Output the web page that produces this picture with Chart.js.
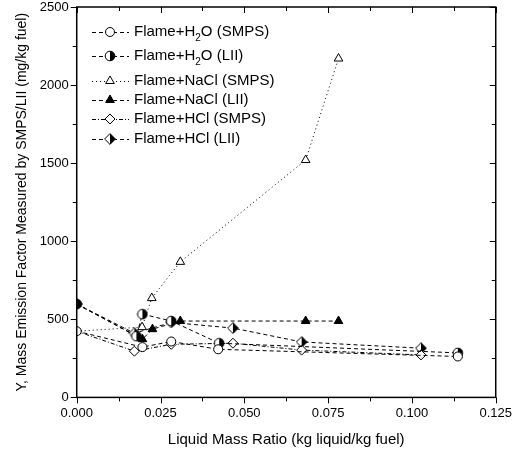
<!DOCTYPE html>
<html>
<head>
<meta charset="utf-8">
<script src="https://cdn.jsdelivr.net/npm/chart.js@4"></script>
<style>
  html, body { margin: 0; padding: 0; background: #fff; }
  #wrap { width: 520px; height: 450px; }
</style>
</head>
<body>
<div id="wrap"><canvas id="chart" width="520" height="450"></canvas></div>
<script>
// data
const h2oSmpsX = [0, 0.0196, 0.0282, 0.0422, 0.1137];
const h2oSmpsY = [424, 322, 358, 308, 262];
const h2oLiiX = [0, 0.0178, 0.0196, 0.0282, 0.0425, 0.1137];
const h2oLiiY = [598, 392, 533, 489, 347, 285];
const naclSmpsX = [0, 0.0195, 0.0224, 0.0309, 0.0683, 0.0781];
const naclSmpsY = [424, 450, 636, 868, 1520, 2170];
const naclLiiX = [0, 0.0196, 0.0226, 0.0309, 0.0683, 0.0781];
const naclLiiY = [598, 373, 437, 489, 489, 489];
const hclSmpsX = [0, 0.0172, 0.0282, 0.0466, 0.0671, 0.1027];
const hclSmpsY = [424, 296, 340, 347, 303, 272];
const hclLiiX = [0, 0.0172, 0.0282, 0.0466, 0.0671, 0.1027];
const hclLiiY = [598, 411, 480, 444, 355, 315];

const xTicks = [0, 0.025, 0.05, 0.075, 0.1, 0.125];
const yTicks = [0, 500, 1000, 1500, 2000, 2500];

const FONT = '"Liberation Sans", Arial, sans-serif';

function pts(xs, ys) {
    return xs.map((x, i) => ({x: x, y: ys[i]}));
}

// half filled markers (right half black)
function halfMarker(shape) {
    const c = document.createElement('canvas');
    c.width = 12; c.height = 12;
    const g = c.getContext('2d');
    const path = () => {
        g.beginPath();
        if (shape === 'circle') {
            g.arc(6, 6, 4.8, 0, Math.PI * 2);
        } else {
            g.moveTo(6, 0.6); g.lineTo(11.4, 6); g.lineTo(6, 11.4); g.lineTo(0.6, 6); g.closePath();
        }
    };
    path();
    g.fillStyle = '#fff'; g.fill();
    g.save();
    path(); g.clip();
    g.fillStyle = '#000';
    g.fillRect(6, 0, 6, 12);
    g.restore();
    path();
    g.lineWidth = 1; g.strokeStyle = '#000'; g.stroke();
    return c;
}
const halfCircle = halfMarker('circle');
const halfDiamond = halfMarker('diamond');

function series(label, xs, ys, style, fill, dash, radius) {
    return {
        label: label,
        data: pts(xs, ys),
        showLine: true,
        borderColor: '#000',
        borderWidth: 1,
        borderDash: dash,
        pointStyle: style,
        pointRadius: radius || 4.5,
        pointBackgroundColor: fill,
        pointBorderColor: '#000',
        pointBorderWidth: 1,
        tension: 0
    };
}

const datasets = [
    series('Flame+H₂O (SMPS)', h2oSmpsX, h2oSmpsY, 'circle', '#fff', [4, 3]),
    series('Flame+H₂O (LII)', h2oLiiX, h2oLiiY, halfCircle, '#000', [4, 3]),
    series('Flame+NaCl (SMPS)', naclSmpsX, naclSmpsY, 'triangle', '#fff', [1, 3], 5),
    series('Flame+NaCl (LII)', naclLiiX, naclLiiY, 'triangle', '#000', [4, 3], 5),
    series('Flame+HCl (SMPS)', hclSmpsX, hclSmpsY, 'rectRot', '#fff', [4, 2, 1, 2], 5),
    series('Flame+HCl (LII)', hclLiiX, hclLiiY, halfDiamond, '#000', [4, 3])
];

// box frame, ticks and legend
const framePlugin = {
    id: 'frame',
    afterDraw(chart) {
        const {ctx, chartArea: a, scales} = chart;
        const xs = scales.x, ys = scales.y;
        ctx.save();
        ctx.strokeStyle = '#000';
        ctx.lineWidth = 1.5;
        ctx.setLineDash([]);
        ctx.strokeRect(a.left, a.top, a.right - a.left, a.bottom - a.top);
        ctx.lineWidth = 1;
        for (let v = 0; v <= 0.1251; v += 0.0125) {
            const px = Math.round(xs.getPixelForValue(v)) + 0.5;
            const major = Math.abs(v / 0.025 - Math.round(v / 0.025)) < 1e-6;
            const len = major ? 6 : 4;
            ctx.beginPath();
            ctx.moveTo(px, a.bottom); ctx.lineTo(px, a.bottom + len);
            ctx.moveTo(px, a.top); ctx.lineTo(px, a.top + len);
            ctx.stroke();
        }
        for (let v = 0; v <= 2500; v += 250) {
            const py = Math.round(ys.getPixelForValue(v)) + 0.5;
            const len = v % 500 === 0 ? 6 : 4;
            ctx.beginPath();
            ctx.moveTo(a.left, py); ctx.lineTo(a.left - len, py);
            ctx.moveTo(a.right, py); ctx.lineTo(a.right - len, py);
            ctx.stroke();
        }

        // legend
        const rows = [32, 56, 81, 100, 119, 139];
        ctx.textBaseline = 'middle';
        chart.data.datasets.forEach((ds, i) => {
            const y = rows[i];
            ctx.strokeStyle = '#000';
            ctx.lineWidth = 1;
            ctx.setLineDash(ds.borderDash);
            ctx.beginPath();
            ctx.moveTo(92, y + 0.5); ctx.lineTo(129, y + 0.5);
            ctx.stroke();
            ctx.setLineDash([]);
            ctx.fillStyle = ds.pointBackgroundColor;
            Chart.helpers.drawPoint(ctx, {
                pointStyle: ds.pointStyle,
                radius: ds.pointRadius,
                borderWidth: 1
            }, 110, y);
            ctx.fillStyle = '#000';
            ctx.font = '15px ' + FONT;
            const lab = ds.label;
            if (lab.indexOf('₂') >= 0) {
                const parts = lab.split('₂');
                ctx.fillText(parts[0], 134, y);
                const w = ctx.measureText(parts[0]).width;
                ctx.font = '10px ' + FONT;
                ctx.fillText('2', 134 + w, y + 6);
                const w2 = ctx.measureText('2').width;
                ctx.font = '15px ' + FONT;
                ctx.fillText(parts[1], 134 + w + w2, y);
            } else {
                ctx.fillText(lab, 134, y);
            }
        });
        ctx.restore();
    }
};

new Chart(document.getElementById('chart'), {
    type: 'scatter',
    data: { datasets: datasets },
    options: {
        responsive: false,
        animation: false,
        layout: { padding: { top: 7, right: 12, left: 14, bottom: 1 } },
        plugins: {
            legend: { display: false },
            tooltip: { enabled: false }
        },
        scales: {
            x: {
                type: 'linear',
                min: 0,
                max: 0.125,
                afterBuildTicks: s => { s.ticks = xTicks.map(v => ({value: v})); },
                grid: { display: false, drawTicks: false },
                border: { display: false },
                ticks: {
                    color: '#000',
                    font: { family: FONT, size: 13 },
                    padding: 8,
                    maxRotation: 0,
                    callback: v => v.toFixed(3)
                },
                title: {
                    display: true,
                    text: 'Liquid Mass Ratio (kg liquid/kg fuel)',
                    color: '#000',
                    font: { family: FONT, size: 15 },
                    padding: { top: 2, bottom: 0 }
                }
            },
            y: {
                type: 'linear',
                min: 0,
                max: 2500,
                afterBuildTicks: s => { s.ticks = yTicks.map(v => ({value: v})); },
                afterFit: s => { s.paddingTop = 0; s.paddingBottom = 0; },
                grid: { display: false, drawTicks: false },
                border: { display: false },
                ticks: {
                    color: '#000',
                    font: { family: FONT, size: 13 },
                    padding: 8,
                    callback: v => String(v)
                },
                title: {
                    display: true,
                    text: 'Y, Mass Emission Factor Measured by SMPS/LII (mg/kg fuel)',
                    color: '#000',
                    font: { family: FONT, size: 14 },
                    padding: { top: 0, bottom: 1 }
                }
            }
        }
    },
    plugins: [framePlugin]
});
</script>
</body>
</html>
